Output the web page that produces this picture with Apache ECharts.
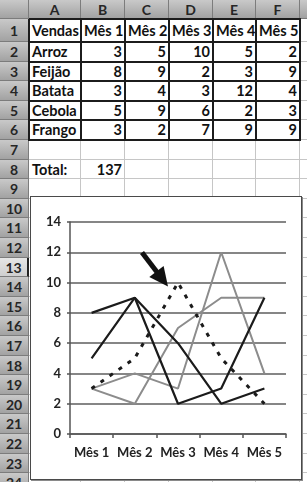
<!DOCTYPE html>
<html>
<head>
<meta charset="utf-8">
<title>Vendas</title>
<script src="https://cdn.jsdelivr.net/npm/echarts/dist/echarts.min.js"></script>
<style>
  html, body {
    margin: 0;
    padding: 0;
    width: 307px;
    height: 482px;
    overflow: hidden;
    background: #fff;
    font-family: Lato, 'Open Sans', sans-serif;
  }
  #sheet {
    position: absolute;
    left: 0;
    top: 0;
    width: 307px;
    height: 482px;
  }
  .ln, .cell, .hd {
    position: absolute;
    box-sizing: border-box;
  }
  .cell {
    font-weight: bold;
    font-size: 14.5px;
    color: #111;
    white-space: nowrap;
    padding: 0 3px 0 3px;
  }
  .hd {
    background: linear-gradient(#c9c9c9, #a2a2a2);
    border-right: 1px solid #7c7c7c;
    border-bottom: 1px solid #7c7c7c;
    color: #262626;
    font-weight: bold;
    font-size: 14px;
    text-align: center;
  }
  #chartBox {
    position: absolute;
    left: 30px;
    top: 196px;
    width: 272px;
    height: 284px;
    background: #fff;
    border: 1px solid #4a4a4a;
    box-sizing: border-box;
    box-shadow: 1px 1px 0 #8a8a8a;
  }
  #chart {
    position: absolute;
    left: 0;
    top: 0;
    width: 270px;
    height: 282px;
  }
</style>
</head>
<body>
  <div id="sheet"></div>
  <div id="chartBox"><div id="chart"></div></div>
<script>
  // dados da planilha
  var categories = ['Mês 1', 'Mês 2', 'Mês 3', 'Mês 4', 'Mês 5'];
  var products = ['Arroz', 'Feijão', 'Batata', 'Cebola', 'Frango'];
  var arroz = [3, 5, 10, 5, 2];
  var feijao = [8, 9, 2, 3, 9];
  var batata = [3, 4, 3, 12, 4];
  var cebola = [5, 9, 6, 2, 3];
  var frango = [3, 2, 7, 9, 9];
  var columnLetters = ['A', 'B', 'C', 'D', 'E', 'F', 'G'];
  var yMin = 0, yMax = 14, yStep = 2;

  var values = [arroz, feijao, batata, cebola, frango];
  var total = 0;
  values.forEach(function (row) {
    row.forEach(function (v) { total += v; });
  });

  /*
   * planilha (grade do Excel)
   */
  var sheet = document.getElementById('sheet');
  var colEdges = [0, 29, 81, 125, 169, 213, 256, 300, 360];
  var rowEdges = [0, 19, 42];
  for (var r = 2; r <= 24; r++) {
    rowEdges.push(Math.round(42 + (r - 1) * 19.6));
  }

  function el(cls, x, y, w, h, css, text) {
    var d = document.createElement('div');
    d.className = cls;
    d.style.left = x + 'px';
    d.style.top = y + 'px';
    d.style.width = w + 'px';
    d.style.height = h + 'px';
    d.style.lineHeight = h + 'px';
    if (css) {
      for (var k in css) d.style[k] = css[k];
    }
    if (text !== undefined) d.textContent = text;
    sheet.appendChild(d);
    return d;
  }

  // linhas claras de grade
  for (var c = 2; c < colEdges.length; c++) {
    el('ln', colEdges[c] - 1, 19, 1, 482 - 19, { background: '#c6c6c6' });
  }
  for (var r = 2; r < rowEdges.length; r++) {
    el('ln', 29, rowEdges[r] - 1, 307 - 29, 1, { background: '#c6c6c6' });
  }

  // cabeçalhos
  el('hd', 0, 0, 29, 19);
  for (var c = 1; c < colEdges.length - 1; c++) {
    el('hd', colEdges[c], 0, colEdges[c + 1] - colEdges[c], 19, null, columnLetters[c - 1]);
  }
  for (var r = 1; r <= 24; r++) {
    var css = { textAlign: 'center' };
    if (r === 13) {
      css.background = 'linear-gradient(#e6e6e6, #cfcfcf)';
      css.borderRight = '2px solid #222';
    }
    el('hd', 0, rowEdges[r], 29, rowEdges[r + 1] - rowEdges[r], css, String(r));
  }

  // bordas pretas da tabela A1:F6
  for (var c = 1; c <= 7; c++) {
    el('ln', colEdges[c] - 1, 19, 2, rowEdges[7] - 19 + 1, { background: '#1c1c1c' });
  }
  for (var r = 1; r <= 7; r++) {
    el('ln', 29, rowEdges[r] - 1, 300 - 29 + 1, 2, { background: '#1c1c1c' });
  }

  // textos das células
  function cellText(row, col, text, align) {
    var x = colEdges[col];
    var y = rowEdges[row];
    el('cell', x, y, colEdges[col + 1] - x, rowEdges[row + 1] - y, { textAlign: align }, text);
  }
  cellText(1, 1, 'Vendas', 'left');
  categories.forEach(function (cat, i) {
    cellText(1, i + 2, cat, 'left');
  });
  products.forEach(function (p, i) {
    cellText(i + 2, 1, p, 'left');
    values[i].forEach(function (v, j) {
      cellText(i + 2, j + 2, String(v), 'right');
    });
  });
  cellText(8, 1, 'Total:', 'left');
  cellText(8, 2, String(total), 'right');

  /*
   * gráfico de linhas
   */
  var labelFont = {
    color: '#222',
    fontFamily: 'Lato',
    fontWeight: 'bold',
    fontSize: 13
  };
  var black = '#1b1b1b';
  var gray = '#8c8c8c';

  function lineSeries(name, data, color, lineType, width) {
    return {
      type: 'line',
      name: name,
      data: data,
      symbol: 'none',
      animation: false,
      lineStyle: {
        color: color,
        width: width,
        type: lineType,
        cap: 'butt'
      }
    };
  }

  var chart = echarts.init(document.getElementById('chart'));
  chart.setOption({
    animation: false,
    grid: { left: 39, right: 15, top: 25, bottom: 45 },
    xAxis: {
      type: 'category',
      data: categories,
      boundaryGap: true,
      axisLine: { lineStyle: { color: '#555', width: 1.5 } },
      axisTick: { show: true, length: 4, lineStyle: { color: '#555', width: 1.5 } },
      axisLabel: Object.assign({ margin: 12, interval: 0, hideOverlap: false }, labelFont)
    },
    yAxis: {
      type: 'value',
      min: yMin,
      max: yMax,
      interval: yStep,
      axisLine: { show: true, lineStyle: { color: '#555', width: 1.5 } },
      axisTick: { show: true, length: 3, lineStyle: { color: '#555', width: 1.5 } },
      axisLabel: Object.assign({ margin: 9 }, labelFont),
      splitLine: { lineStyle: { color: '#5e5e5e', width: 1.5 } }
    },
    series: [
      lineSeries(products[2], batata, gray, 'solid', 2),
      lineSeries(products[4], frango, gray, 'solid', 2),
      lineSeries(products[1], feijao, black, 'solid', 2.2),
      lineSeries(products[3], cebola, black, 'solid', 2.2),
      lineSeries(products[0], arroz, black, [4, 7], 3)
    ]
  });

  // seta apontando para o pico do arroz
  var peakIdx = arroz.indexOf(Math.max.apply(null, arroz));
  var peak = chart.convertToPixel({ gridIndex: 0 }, [categories[peakIdx], arroz[peakIdx]]);
  var tip = [peak[0] - 10, peak[1] + 4];
  var tail = [peak[0] - 36, peak[1] - 30];
  var dx = tip[0] - tail[0], dy = tip[1] - tail[1];
  var len = Math.sqrt(dx * dx + dy * dy);
  dx /= len; dy /= len;
  var headLen = 19, headHalf = 9;
  var base = [tip[0] - dx * headLen, tip[1] - dy * headLen];
  chart.setOption({
    graphic: [{
      type: 'line',
      shape: { x1: tail[0], y1: tail[1], x2: base[0] + dx * 2, y2: base[1] + dy * 2 },
      style: { stroke: '#111', lineWidth: 5 },
      z: 100
    }, {
      type: 'polygon',
      shape: {
        points: [
          tip,
          [base[0] - dy * headHalf, base[1] + dx * headHalf],
          [base[0] + dy * headHalf, base[1] - dx * headHalf]
        ]
      },
      style: { fill: '#111' },
      z: 100
    }]
  });
</script>
</body>
</html>
